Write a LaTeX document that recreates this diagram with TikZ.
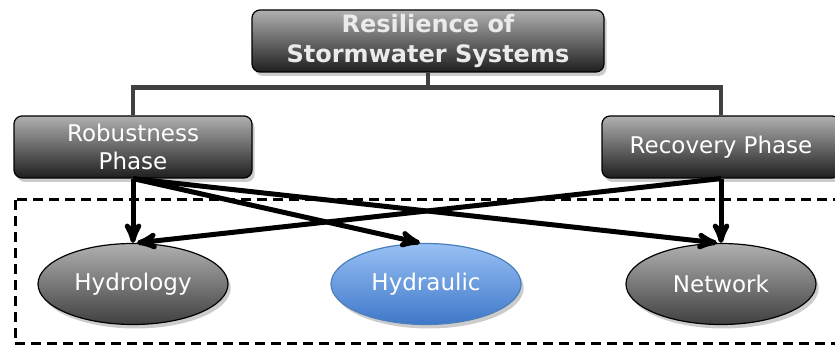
\documentclass[tikz,border=0pt]{standalone}
\usepackage{fontspec}
\setmainfont{DejaVu Sans}
\usetikzlibrary{positioning, arrows, shadows, shapes.geometric}
\definecolor{boxtop}{HTML}{B0B0B0}
\definecolor{boxbot}{HTML}{1E1E1E}
\definecolor{bluetop}{HTML}{98C0F4}
\definecolor{bluebot}{HTML}{3F78C9}
\definecolor{blueline}{HTML}{4A7EBB}
\definecolor{treeline}{HTML}{404040}
\tikzset{
>=stealth', % bold arrow heads
node distance=295pt, % distance between the centres of two nodes
phase/.style={rectangle, rounded corners=8pt, draw=black, line width=1.2pt, top color=boxtop, bottom color=boxbot, text=white, minimum width=238pt, minimum height=62pt, align=center, font=\fontsize{23}{28}\selectfont, drop shadow={opacity=0.4, shadow yshift=-4pt}}, % the grey boxes
part/.style={ellipse, draw=black, line width=1.2pt, top color=boxtop, bottom color=boxbot!85, text=white, minimum width=190pt, minimum height=81pt, font=\fontsize{23}{28}\selectfont, drop shadow={opacity=0.4, shadow yshift=-4pt}}, % the grey ellipses
link/.style={->, line width=5pt, black}, % the thick arrows
}

\begin{document}
\begin{tikzpicture}[x=1pt, y=1pt]
    \useasboundingbox (0,0) rectangle (835,-352);
    \node[phase, minimum width=352pt, font=\bfseries\fontsize{24}{30}\selectfont, text=white!92!black] (top) at (428,-41) {Resilience of\\Stormwater Systems};
    \node[part, top color=bluetop, bottom color=bluebot, draw=blueline] (hydrau) at (426,-284) {Hydraulic};
    \node[part, left of=hydrau, xshift=2pt] (hydro) {Hydrology};
    \node[part, right of=hydrau] (net) {Network};
    \node[phase, above of=hydro, node distance=137pt] (robust) {Robustness\\Phase};
    \node[phase, above of=net, node distance=137pt] (recov) {Recovery Phase};
    % dashed frame round the three parts
    \draw[dashed, line width=3pt, dash pattern=on 10pt off 6pt] (15,-200) rectangle (845,-344);
    % tree from the top box
    \draw[treeline, line width=4.5pt] (top.south) -- ++(0,-15) coordinate (fork)
      (robust.north) |- (fork) -| (recov.north);
    \draw[link] (robust.south) -- (hydro.north);
    \draw[link] (robust.south) -- ([xshift=-6pt]hydrau.north);
    \draw[link] (robust.south) -- ([xshift=-4pt]net.north);
    \draw[link] (recov.south) -- ([xshift=4pt]hydro.north);
    \draw[link] (recov.south) -- (net.north);
\end{tikzpicture}
\end{document}
